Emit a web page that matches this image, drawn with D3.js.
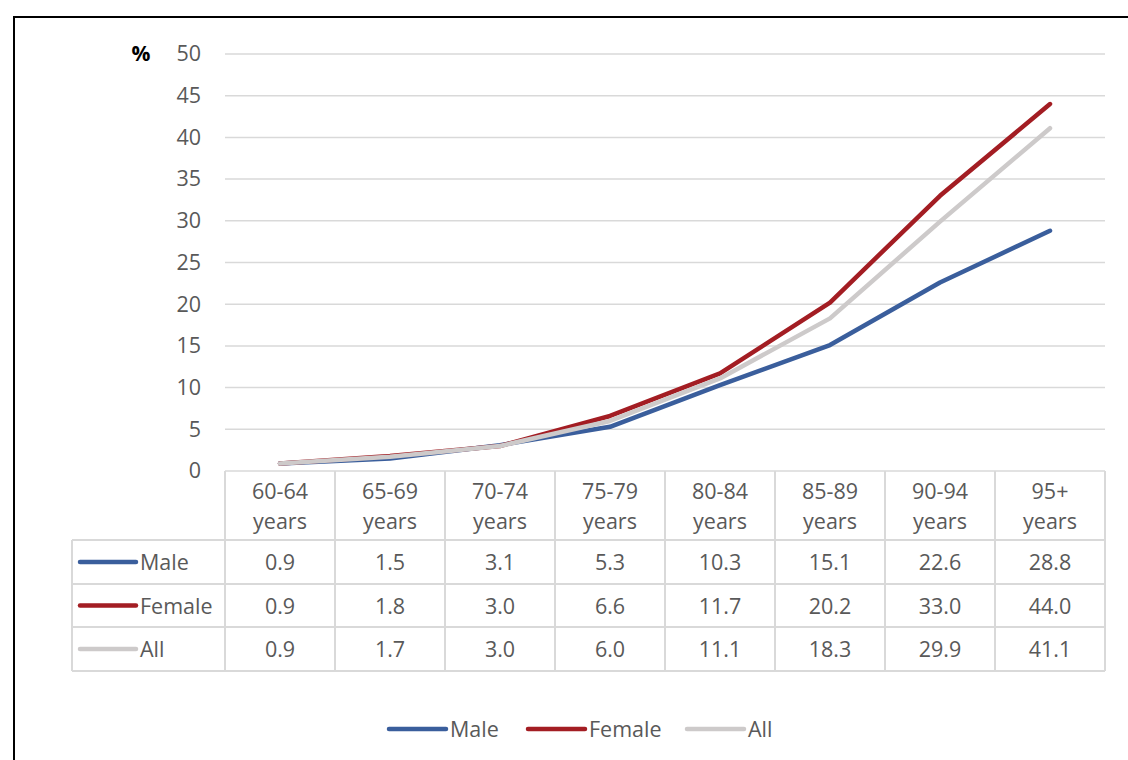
<!DOCTYPE html>
<html>
<head>
<meta charset="utf-8">
<script src="https://cdnjs.cloudflare.com/ajax/libs/d3/7.8.5/d3.min.js"></script>
<style>
  body { margin: 0; background: #fff; }
  text { font-family: "Open Sans", Lato, sans-serif; }
</style>
</head>
<body>
<div class="chart"></div>
<script>
var categories = ['60-64', '65-69', '70-74', '75-79', '80-84', '85-89', '90-94', '95+'];
var maleValues = [0.9, 1.5, 3.1, 5.3, 10.3, 15.1, 22.6, 28.8];
var femaleValues = [0.9, 1.8, 3.0, 6.6, 11.7, 20.2, 33.0, 44.0];
var allValues = [0.9, 1.7, 3.0, 6.0, 11.1, 18.3, 29.9, 41.1];
var yTicks = [0, 5, 10, 15, 20, 25, 30, 35, 40, 45, 50];

var series = [
  { name: 'Male', values: maleValues, color: '#3A5E9C' },
  { name: 'Female', values: femaleValues, color: '#A31D23' },
  { name: 'All', values: allValues, color: '#CDCACA' }
];

var W = 1128, H = 760;
var plotLeft = 225, plotRight = 1105, plotTop = 54, plotBottom = 471;
var tableLeft = 72;
var rowTops = [540, 584, 627, 671];
var gridColor = '#D9D9D9';
var textColor = '#595959';
var fs = '21.5px';

var svg = d3.select('.chart')
  .append('svg')
  .attr('width', W)
  .attr('height', H);

// outer border
svg.append('rect')
  .attr('x', 14).attr('y', 17)
  .attr('width', W + 20).attr('height', H + 20)
  .style('fill', 'none')
  .style('stroke', '#000')
  .style('stroke-width', 2);

var xScale = d3.scaleBand()
  .domain(categories)
  .range([plotLeft, plotRight]);

var yScale = d3.scaleLinear()
  .domain([0, 50])
  .range([plotBottom, plotTop]);

// gridlines
svg.append('g')
  .selectAll('line')
  .data(yTicks)
  .join('line')
  .attr('x1', plotLeft).attr('x2', plotRight)
  .attr('y1', d => yScale(d)).attr('y2', d => yScale(d))
  .style('stroke', gridColor)
  .style('stroke-width', 1.5);

// y tick labels
var yAxis = d3.axisLeft(yScale).tickValues(yTicks).tickSize(0).tickPadding(0);
var yG = svg.append('g')
  .attr('transform', 'translate(201,0)')
  .call(yAxis);
yG.select('.domain').remove();
yG.selectAll('text')
  .style('font-size', fs)
  .style('fill', textColor)
  .style('font-family', '"Open Sans", sans-serif');

svg.append('text')
  .attr('x', 141).attr('y', yScale(50) + 7)
  .attr('text-anchor', 'middle')
  .style('font-size', '21px')
  .style('font-weight', 'bold')
  .style('fill', '#000')
  .text('%');

// data table grid
var table = svg.append('g');
var colEdges = categories.map(c => xScale(c)).concat([plotRight]);
table.selectAll('line.v')
  .data(colEdges)
  .join('line')
  .attr('class', 'v')
  .attr('x1', d => d).attr('x2', d => d)
  .attr('y1', plotBottom).attr('y2', rowTops[3])
  .style('stroke', gridColor)
  .style('stroke-width', 2);
table.append('line')
  .attr('x1', tableLeft).attr('x2', tableLeft)
  .attr('y1', rowTops[0]).attr('y2', rowTops[3])
  .style('stroke', gridColor)
  .style('stroke-width', 2);
table.selectAll('line.h')
  .data(rowTops)
  .join('line')
  .attr('class', 'h')
  .attr('x1', tableLeft).attr('x2', plotRight)
  .attr('y1', d => d).attr('y2', d => d)
  .style('stroke', gridColor)
  .style('stroke-width', 2);

// category header
var head = table.selectAll('text.cat')
  .data(categories)
  .join('text')
  .attr('class', 'cat')
  .attr('text-anchor', 'middle')
  .style('font-size', fs)
  .style('fill', textColor);
head.append('tspan')
  .attr('x', d => xScale(d) + xScale.bandwidth() / 2)
  .attr('y', 499)
  .text(d => d);
head.append('tspan')
  .attr('x', d => xScale(d) + xScale.bandwidth() / 2)
  .attr('y', 529)
  .text('years');

// table rows
series.forEach(function (s, i) {
  var mid = (rowTops[i] + rowTops[i + 1]) / 2;
  table.append('line')
    .attr('x1', 80).attr('x2', 136)
    .attr('y1', mid).attr('y2', mid)
    .style('stroke', s.color)
    .style('stroke-width', 4.5)
    .style('stroke-linecap', 'round');
  table.append('text')
    .attr('x', 140).attr('y', mid + 8)
    .style('font-size', fs)
    .style('fill', textColor)
    .text(s.name);
  table.selectAll('text.v' + i)
    .data(s.values)
    .join('text')
    .attr('class', 'v' + i)
    .attr('x', (d, j) => xScale(categories[j]) + xScale.bandwidth() / 2)
    .attr('y', mid + 8)
    .attr('text-anchor', 'middle')
    .style('font-size', fs)
    .style('fill', textColor)
    .text(d => d.toFixed(1));
});

// lines
var line = d3.line()
  .x((d, j) => xScale(categories[j]) + xScale.bandwidth() / 2)
  .y(d => yScale(d));

svg.append('g')
  .selectAll('path')
  .data(series)
  .join('path')
  .attr('d', d => line(d.values))
  .style('fill', 'none')
  .style('stroke', d => d.color)
  .style('stroke-width', 4.5)
  .style('stroke-linecap', 'round')
  .style('stroke-linejoin', 'round');

// legend
var legendItems = [
  { x: 389, s: series[0] },
  { x: 528, s: series[1] },
  { x: 687, s: series[2] }
];
var lg = svg.append('g');
legendItems.forEach(function (it) {
  lg.append('line')
    .attr('x1', it.x).attr('x2', it.x + 57)
    .attr('y1', 729).attr('y2', 729)
    .style('stroke', it.s.color)
    .style('stroke-width', 4.5)
    .style('stroke-linecap', 'round');
  lg.append('text')
    .attr('x', it.x + 61).attr('y', 737)
    .style('font-size', fs)
    .style('fill', textColor)
    .text(it.s.name);
});
</script>
</body>
</html>
